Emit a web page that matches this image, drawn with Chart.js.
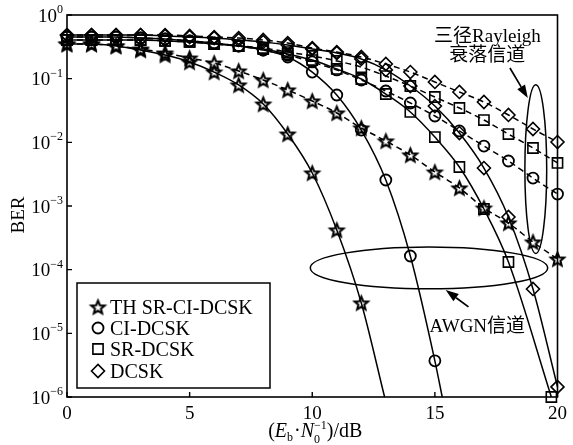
<!DOCTYPE html>
<html>
<head>
<meta charset="utf-8">
<script src="https://cdn.jsdelivr.net/npm/chart.js@4"></script>
<style>
  html, body { margin: 0; padding: 0; background: #fff; }
  #plot { display: block; width: 573px; height: 445px; }
</style>
</head>
<body>
<canvas id="plot" width="573" height="445"></canvas>
<script>
// ---- data: BER versus Eb/N0 (dB) for four chaos-shift-keying schemes ----
const schemes = ['TH SR-CI-DCSK', 'CI-DCSK', 'SR-DCSK', 'DCSK'];
const snrDb = [0,1,2,3,4,5,6,7,8,9,10,11,12,13,14,15,16,17,18,19,20];
const xTickValues = [0, 5, 10, 15, 20];
const yTickExponents = [0, -1, -2, -3, -4, -5, -6];

// AWGN channel (solid curves); where a curve leaves the plot its last x is where it meets 1e-6
const snrThAwgn = [0,1,2,3,4,5,6,7,8,9,10,11,12,12.95];
const berThAwgn = [0.350,0.350,0.326,0.282,0.235,0.183,0.127,0.0796,0.0400,0.0135,0.0033,4.2e-4,3.0e-5,1e-6];
const snrCiAwgn = [0,1,2,3,4,5,6,7,8,9,10,11,12,13,14,15,15.3];
const berCiAwgn = [0.451,0.451,0.451,0.435,0.420,0.391,0.363,0.326,0.282,0.219,0.127,0.0554,0.0156,0.00256,1.64e-4,3.7e-6,1e-6];
const snrSrAwgn = [0,1,2,3,4,5,6,7,8,9,10,11,12,13,14,15,16,17,18,19.75];
const berSrAwgn = [0.405,0.405,0.405,0.405,0.391,0.377,0.350,0.326,0.292,0.244,0.196,0.142,0.0988,0.0574,0.0300,0.0121,0.00410,8.97e-4,1.32e-4,1e-6];
const berDcskAwgn = [0.485,0.485,0.485,0.485,0.468,0.451,0.435,0.405,0.377,0.338,0.292,0.253,0.204,0.137,0.0767,0.0372,0.0140,0.00395,6.72e-4,4.98e-5,1.44e-6];

// three-path Rayleigh fading channel (dashed curves)
const berThRay   = [0.350,0.350,0.326,0.292,0.253,0.211,0.176,0.132,0.0953,0.0664,0.0446,0.0289,0.0168,0.0105,0.00633,0.00342,0.00192,9.3e-4,5.41e-4,2.72e-4,1.47e-4];
const berCiRay   = [0.451,0.451,0.451,0.435,0.420,0.391,0.363,0.326,0.282,0.235,0.183,0.137,0.0953,0.0640,0.0415,0.0259,0.0151,0.00875,0.00509,0.00275,0.00154];
const berSrRay   = [0.405,0.405,0.405,0.405,0.391,0.377,0.350,0.326,0.303,0.262,0.227,0.190,0.152,0.110,0.0767,0.0515,0.0346,0.0224,0.0135,0.00815,0.00474];
const berDcskRay = [0.485,0.485,0.485,0.485,0.485,0.468,0.451,0.435,0.405,0.363,0.303,0.262,0.219,0.170,0.127,0.0887,0.0618,0.0430,0.0269,0.0162,0.0101];

// ---- callouts, in data coordinates ----
const rayleighOval  = { x0: 18.67, x1: 19.56, yTop: 0.08, yBot: 1.8e-4 };
const awgnOval      = { x0: 9.92,  x1: 19.6,  yTop: 2.27e-4, yBot: 5.0e-5 };
const rayleighArrow = { from: [18.06, 0.147], to: [18.79, 0.0497] };
const awgnArrow     = { from: [16.37, 2.6e-5], to: [15.44, 4.8e-5] };
const rayleighText  = { x: 17.14, lines: [['三径Rayleigh', 0.377], ['衰落信道', 0.189]] };
const awgnText      = { x: 16.73, y: 1.05e-5, text: 'AWGN信道' };

// ---- fonts ----
const SERIF = '"Liberation Serif", "Times New Roman", "Noto Sans CJK SC", serif';
const fBig = '19px ' + SERIF;
const fLegend = '20px ' + SERIF;
const fItal = 'italic 20px ' + SERIF;
const fTitle = '20px ' + SERIF;
const fSmall = '12px ' + SERIF;

// hollow five-pointed star marker
function makeStar(outer, inner, lw) {
  const size = Math.ceil(2 * outer + 2 * lw + 2);
  const c = document.createElement('canvas');
  c.width = c.height = size;
  const g = c.getContext('2d');
  const cx = size / 2, cy = size / 2 + outer * 0.1;
  g.beginPath();
  for (let i = 0; i < 10; i++) {
    const r = i % 2 ? inner : outer;
    const a = -Math.PI / 2 + i * Math.PI / 5;
    g.lineTo(cx + r * Math.cos(a), cy + r * Math.sin(a));
  }
  g.closePath();
  g.lineWidth = lw;
  g.lineJoin = 'miter';
  g.strokeStyle = '#000';
  g.stroke();
  return c;
}
const starMark = makeStar(7, 3.1, 2.1);

const markers = [
  { pointStyle: starMark, radius: 6, bw: 1.8 },
  { pointStyle: 'circle', radius: 5.5, bw: 1.8 },
  { pointStyle: 'rect', radius: 7.2, bw: 1.6 },
  { pointStyle: 'rectRot', radius: 6.5, bw: 1.6 }
];

function series(label, xs, ys, mk, dashed, bareEnd) {
  return {
    label: label,
    data: xs.map((x, i) => ({ x: x, y: ys[i] })),
    borderColor: '#000',
    borderWidth: 1.5,
    borderDash: dashed ? [6, 4] : [],
    pointStyle: mk.pointStyle,
    pointRadius: xs.map((_, i) => (bareEnd && i === xs.length - 1) ? 0 : mk.radius),
    pointBorderWidth: mk.bw,
    pointBorderColor: '#000',
    pointBackgroundColor: 'rgba(0,0,0,0)',
    fill: false,
    cubicInterpolationMode: 'monotone',
    clip: 10
  };
}

const datasets = [
  series(schemes[0] + ' AWGN', snrThAwgn, berThAwgn, markers[0], false, true),
  series(schemes[1] + ' AWGN', snrCiAwgn, berCiAwgn, markers[1], false, true),
  series(schemes[2] + ' AWGN', snrSrAwgn, berSrAwgn, markers[2], false, false),
  series(schemes[3] + ' AWGN', snrDb, berDcskAwgn, markers[3], false, false),
  series(schemes[0] + ' Rayleigh', snrDb, berThRay, markers[0], true, false),
  series(schemes[1] + ' Rayleigh', snrDb, berCiRay, markers[1], true, false),
  series(schemes[2] + ' Rayleigh', snrDb, berSrRay, markers[2], true, false),
  series(schemes[3] + ' Rayleigh', snrDb, berDcskRay, markers[3], true, false)
];

function arrow(ctx, x0, y0, x1, y1, len, half) {
  const a = Math.atan2(y1 - y0, x1 - x0);
  const bx = x1 - len * Math.cos(a), by = y1 - len * Math.sin(a);
  ctx.beginPath();
  ctx.moveTo(x0, y0);
  ctx.lineTo(bx, by);
  ctx.stroke();
  ctx.beginPath();
  ctx.moveTo(x1, y1);
  ctx.lineTo(bx + half * Math.sin(a), by - half * Math.cos(a));
  ctx.lineTo(bx - half * Math.sin(a), by + half * Math.cos(a));
  ctx.closePath();
  ctx.fill();
}

function oval(ctx, xs, ys, o) {
  const l = xs.getPixelForValue(o.x0), r = xs.getPixelForValue(o.x1);
  const t = ys.getPixelForValue(o.yTop), b = ys.getPixelForValue(o.yBot);
  ctx.beginPath();
  ctx.ellipse((l + r) / 2, (t + b) / 2, (r - l) / 2, (b - t) / 2, 0, 0, Math.PI * 2);
  ctx.stroke();
}

function drawXTitle(ctx, cx, base) {
  const parts = [
    [{ t: '(', f: fTitle, dy: 0 }],
    [{ t: 'E', f: fItal, dy: 0 }],
    [{ t: 'b', f: fSmall, dy: 4 }],
    [{ t: '·', f: fTitle, dy: 0 }],
    [{ t: 'N', f: fItal, dy: 0 }],
    [{ t: '−1', f: fSmall, dy: -8 }, { t: '0', f: fSmall, dy: 6 }],
    [{ t: ')/dB', f: fTitle, dy: 0 }]
  ];
  const widths = parts.map(grp => Math.max.apply(null, grp.map(p => { ctx.font = p.f; return ctx.measureText(p.t).width; })));
  widths[2] += 1;
  const total = widths.reduce((a, b) => a + b, 0);
  let x = cx - total / 2;
  ctx.textAlign = 'left';
  ctx.textBaseline = 'alphabetic';
  parts.forEach((grp, i) => {
    grp.forEach(p => { ctx.font = p.f; ctx.fillText(p.t, x, base + p.dy); });
    x += widths[i];
  });
}

const decor = {
  id: 'decor',
  afterDatasetsDraw(chart) {
    const ctx = chart.ctx, area = chart.chartArea;
    const xs = chart.scales.x, ys = chart.scales.y;
    ctx.save();
    ctx.strokeStyle = '#000';
    ctx.fillStyle = '#000';

    // callout ovals, arrows and labels
    ctx.lineWidth = 1.5;
    oval(ctx, xs, ys, rayleighOval);
    oval(ctx, xs, ys, awgnOval);
    ctx.lineWidth = 1.7;
    arrow(ctx, xs.getPixelForValue(rayleighArrow.from[0]), ys.getPixelForValue(rayleighArrow.from[1]),
               xs.getPixelForValue(rayleighArrow.to[0]), ys.getPixelForValue(rayleighArrow.to[1]), 13, 4.5);
    arrow(ctx, xs.getPixelForValue(awgnArrow.from[0]), ys.getPixelForValue(awgnArrow.from[1]),
               xs.getPixelForValue(awgnArrow.to[0]), ys.getPixelForValue(awgnArrow.to[1]), 13, 4.5);
    ctx.font = fBig;
    ctx.textAlign = 'center';
    ctx.textBaseline = 'alphabetic';
    rayleighText.lines.forEach(([t, v]) => {
      ctx.fillText(t, xs.getPixelForValue(rayleighText.x), ys.getPixelForValue(v));
    });
    ctx.fillText(awgnText.text, xs.getPixelForValue(awgnText.x), ys.getPixelForValue(awgnText.y));

    // legend
    const bx = area.left + 10, by = area.bottom - 114, bw = 193, bh = 105;
    ctx.fillStyle = '#fff';
    ctx.fillRect(bx, by, bw, bh);
    ctx.lineWidth = 1.5;
    ctx.strokeRect(bx, by, bw, bh);
    const rowY = [24, 45, 66, 88];
    schemes.forEach((name, i) => {
      const cy = by + rowY[i];
      ctx.fillStyle = 'rgba(0,0,0,0)';
      ctx.strokeStyle = '#000';
      ctx.lineWidth = markers[i].bw;
      Chart.helpers.drawPoint(ctx, { pointStyle: markers[i].pointStyle, radius: markers[i].radius, borderWidth: markers[i].bw, rotation: 0 },
        bx + 21, cy);
      ctx.fillStyle = '#000';
      ctx.font = fLegend;
      ctx.textAlign = 'left';
      ctx.fillText(name, bx + 33, cy + 7);
    });

    // plot frame and inward ticks
    ctx.strokeStyle = '#000';
    ctx.lineWidth = 1.6;
    ctx.strokeRect(area.left, area.top, area.right - area.left, area.bottom - area.top);
    ctx.lineWidth = 1.4;
    ctx.beginPath();
    xTickValues.forEach(v => {
      const px = xs.getPixelForValue(v);
      ctx.moveTo(px, area.bottom);
      ctx.lineTo(px, area.bottom - 5);
    });
    yTickExponents.forEach(e => {
      const py = ys.getPixelForValue(Math.pow(10, e));
      ctx.moveTo(area.left, py);
      ctx.lineTo(area.left + 5, py);
    });
    ctx.stroke();

    // decade labels 10^n
    ctx.fillStyle = '#000';
    ctx.textAlign = 'left';
    ctx.textBaseline = 'alphabetic';
    yTickExponents.forEach(e => {
      const py = ys.getPixelForValue(Math.pow(10, e));
      const sup = e === 0 ? '0' : '−' + (-e);
      ctx.font = fSmall;
      const sw = ctx.measureText(sup).width;
      ctx.font = fBig;
      const tw = ctx.measureText('10').width;
      const right = area.left - 4;
      ctx.fillText('10', right - sw - tw, py + 6.5);
      ctx.font = fSmall;
      ctx.fillText(sup, right - sw, py - 2);
    });

    // axis titles
    ctx.save();
    ctx.translate(24, (area.top + area.bottom) / 2 + 9);
    ctx.rotate(-Math.PI / 2);
    ctx.font = fBig;
    ctx.textAlign = 'center';
    ctx.fillText('BER', 0, 0);
    ctx.restore();
    drawXTitle(ctx, (area.left + area.right) / 2 + 3, 437);

    ctx.restore();
  }
};

new Chart(document.getElementById('plot'), {
  type: 'line',
  data: { datasets: datasets },
  options: {
    responsive: false,
    animation: false,
    devicePixelRatio: 1,
    layout: { padding: { top: 15, right: 10, left: 0, bottom: 0 } },
    plugins: { legend: { display: false }, tooltip: { enabled: false } },
    scales: {
      x: {
        type: 'linear', min: 0, max: 20,
        grid: { display: false, drawTicks: false },
        border: { display: false },
        ticks: { color: '#000', font: { family: SERIF, size: 19 }, padding: 6, maxRotation: 0 },
        afterBuildTicks: s => { s.ticks = xTickValues.map(v => ({ value: v })); },
        afterFit: s => { s.height = 48; }
      },
      y: {
        type: 'logarithmic', min: 1e-6, max: 1,
        grid: { display: false, drawTicks: false },
        border: { display: false },
        ticks: { display: false },
        afterFit: s => { s.width = 67; }
      }
    }
  },
  plugins: [decor]
});
</script>
</body>
</html>
